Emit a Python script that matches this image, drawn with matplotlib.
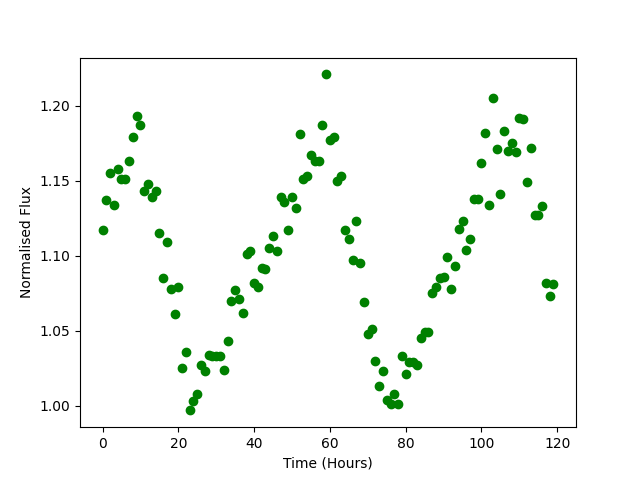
import matplotlib
matplotlib.use("Agg")
import matplotlib.pyplot as plt

hours = list(range(120))
flux = [
    1.117, 1.137, 1.155, 1.134, 1.158, 1.151, 1.151, 1.163, 1.179, 1.193,
    1.187, 1.143, 1.148, 1.139, 1.143, 1.115, 1.085, 1.109, 1.078, 1.061,
    1.079, 1.025, 1.036, 0.997, 1.003, 1.008, 1.027, 1.023, 1.034, 1.033,
    1.033, 1.033, 1.024, 1.043, 1.070, 1.077, 1.071, 1.062, 1.101, 1.103,
    1.082, 1.079, 1.092, 1.091, 1.105, 1.113, 1.103, 1.139, 1.136, 1.117,
    1.139, 1.132, 1.181, 1.151, 1.153, 1.167, 1.163, 1.163, 1.187, 1.221,
    1.177, 1.179, 1.150, 1.153, 1.117, 1.111, 1.097, 1.123, 1.095, 1.069,
    1.048, 1.051, 1.030, 1.013, 1.023, 1.004, 1.001, 1.008, 1.001, 1.033,
    1.021, 1.029, 1.029, 1.027, 1.045, 1.049, 1.049, 1.075, 1.079, 1.085,
    1.086, 1.099, 1.078, 1.093, 1.118, 1.123, 1.104, 1.111, 1.138, 1.138,
    1.162, 1.182, 1.134, 1.205, 1.171, 1.141, 1.183, 1.170, 1.175, 1.169,
    1.192, 1.191, 1.149, 1.172, 1.127, 1.127, 1.133, 1.082, 1.073, 1.081,
]

fig, ax = plt.subplots(figsize=(6.4, 4.8), dpi=100)
ax.plot(hours, flux, 'o', color='green')
ax.set_xlabel('Time (Hours)')
ax.set_ylabel('Normalised Flux')
fig.savefig('out.png')
